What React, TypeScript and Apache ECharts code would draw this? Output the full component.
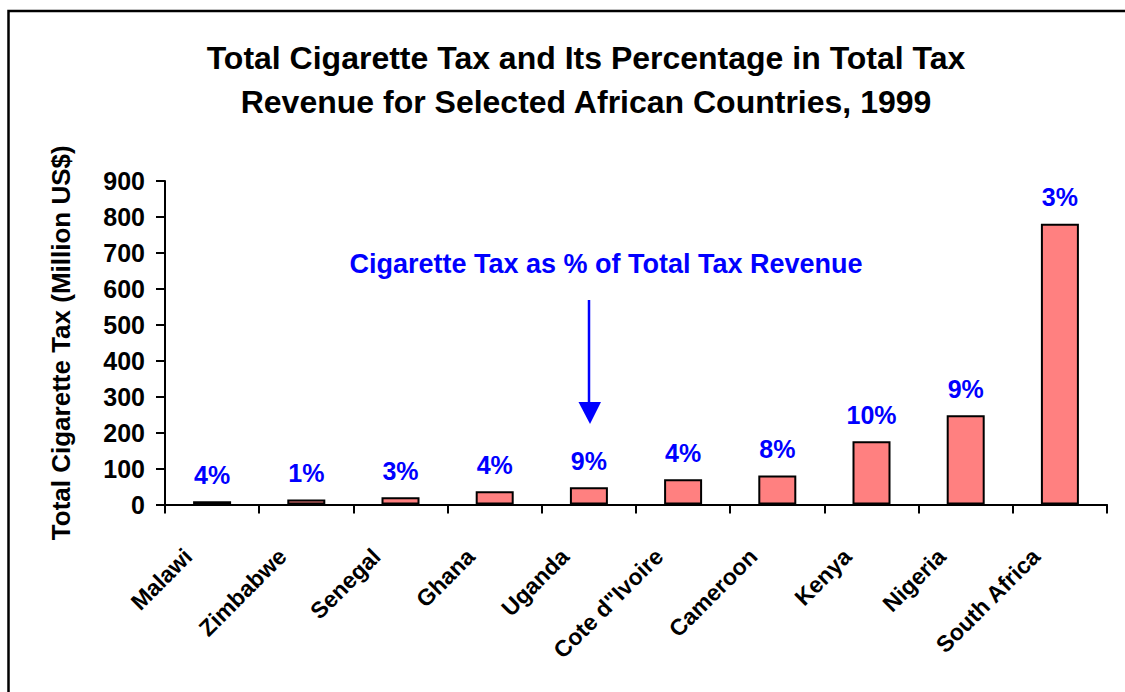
import React, { useEffect, useRef } from "react";
import * as echarts from "echarts";

const countries = [
  "Malawi",
  "Zimbabwe",
  "Senegal",
  "Ghana",
  "Uganda",
  "Cote d\"Ivoire",
  "Cameroon",
  "Kenya",
  "Nigeria",
  "South Africa",
];
const cigaretteTax = [9, 14, 20, 37, 48, 70, 81, 176, 248, 781];
const pctOfTotal = ["4%", "1%", "3%", "4%", "9%", "4%", "8%", "10%", "9%", "3%"];
const titleLines = [
  "Total Cigarette Tax and Its Percentage in Total Tax",
  "Revenue for Selected African Countries, 1999",
];
const annotationText = "Cigarette Tax as % of Total Tax Revenue";
const yAxisName = "Total Cigarette Tax (Million US$)";

const FONT = "Arial, 'Liberation Sans', Helvetica, sans-serif";

export default function App() {
  const ref = useRef<HTMLDivElement>(null);
  useEffect(() => {
    document.body.style.margin = "0";
    const chart = echarts.init(ref.current!, null, { renderer: "svg" });
    chart.setOption({
      animation: false,
      backgroundColor: "#ffffff",
      title: {
        text: titleLines.join("\n"),
        left: 581,
        top: 31,
        textAlign: "center",
        textStyle: {
          fontFamily: FONT,
          fontSize: 32,
          fontWeight: "bold",
          color: "#000000",
          lineHeight: 44,
        },
      },
      grid: { left: 165, right: 18, top: 181, bottom: 187.5, containLabel: false },
      xAxis: {
        type: "category",
        data: countries,
        boundaryGap: true,
        axisLine: { show: true, lineStyle: { color: "#000", width: 2 } },
        axisTick: { show: true, length: 9, lineStyle: { color: "#000", width: 2 } },
        axisLabel: {
          interval: 0,
          rotate: 45,
          margin: 24,
          padding: [0, 34, 0, 0],
          fontFamily: FONT,
          fontSize: 23,
          fontWeight: "bold",
          color: "#000",
        },
        splitLine: { show: false },
      },
      yAxis: {
        type: "value",
        min: 0,
        max: 900,
        interval: 100,
        name: yAxisName,
        nameLocation: "middle",
        nameRotate: 90,
        nameGap: 91,
        nameTextStyle: {
          fontFamily: FONT,
          fontSize: 26,
          fontWeight: "bold",
          color: "#000",
        },
        axisLine: { show: true, lineStyle: { color: "#000", width: 2 } },
        axisTick: { show: true, length: 9, lineStyle: { color: "#000", width: 2 } },
        axisLabel: {
          margin: 20,
          fontFamily: FONT,
          fontSize: 25,
          fontWeight: "bold",
          color: "#000",
        },
        splitLine: { show: false },
      },
      series: [
        {
          type: "bar",
          data: cigaretteTax,
          barWidth: 38,
          itemStyle: { color: "#FF8080", borderColor: "#000", borderWidth: 2 },
          label: {
            show: true,
            position: "top",
            distance: 14,
            formatter: (p: any) => pctOfTotal[p.dataIndex],
            fontFamily: FONT,
            fontSize: 25,
            fontWeight: "bold",
            color: "#0000FF",
          },
        },
      ],
      graphic: [
        {
          type: "rect",
          shape: { x: 8.5, y: 11, width: 1300, height: 1000 },
          style: { fill: "none", stroke: "#000", lineWidth: 2.5 },
          silent: true,
        },
        {
          type: "text",
          x: 606,
          y: 264,
          style: {
            text: annotationText,
            fill: "#0000FF",
            font: `bold 27px ${FONT}`,
            textAlign: "center",
            textVerticalAlign: "middle",
          },
        },
        {
          type: "line",
          shape: { x1: 589, y1: 300, x2: 589, y2: 405 },
          style: { stroke: "#0000FF", lineWidth: 2.5 },
        },
        {
          type: "polygon",
          shape: { points: [[578.5, 402], [601, 402], [590, 424]] },
          style: { fill: "#0000FF" },
        },
      ],
    });
    return () => chart.dispose();
  }, []);
  return (
    <div
      ref={ref}
      style={{ position: "absolute", left: 0, top: 0, width: 1125, height: 692 }}
    />
  );
}
